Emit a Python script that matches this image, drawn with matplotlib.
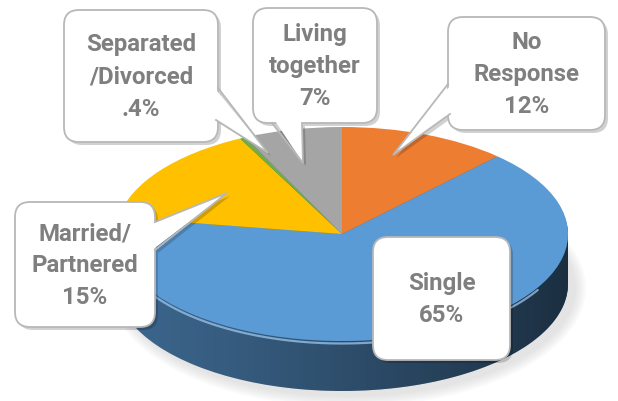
import numpy as np
import matplotlib.pyplot as plt
from matplotlib.patches import FancyBboxPatch, Polygon, Ellipse
from matplotlib.transforms import Affine2D
import matplotlib.colors as mcolors

# data
labels = ['No\nResponse', 'Single', 'Married/\nPartnered', 'Separated\n/Divorced', 'Living\ntogether']
shares = [12, 65, 15, 0.4, 7]
pct_labels = ['12%', '65%', '15%', '.4%', '7%']
colors = ['#ED7D31', '#5B9BD5', '#FFC000', '#70AD47', '#A5A5A5']

W, H = 618, 401
cx, cy = 342, 234      # pie centre, pixels from top-left
a, b = 226, 107        # top ellipse semi axes
depth = 50

fig = plt.figure(figsize=(W / 100, H / 100), dpi=100)
ax = fig.add_axes([0, 0, 1, 1])
ax.axis('off')


def Y(py):
    return H - py


def squash(dy=0):
    return (Affine2D().translate(-cx, -Y(cy)).scale(1, b / a)
            .translate(cx, Y(cy) - dy) + ax.transData)


# soft shadow under the pie
for k in range(6):
    ax.add_patch(Ellipse((cx + 6, Y(cy) - depth - 4), 2 * a + 4 + 4 * k, 2 * b + 4 + 4 * k,
                         facecolor='#808080', edgecolor='none', alpha=0.035, zorder=0))

# side walls: stacked copies of the pie in darker colours
side_colors = [np.array(mcolors.to_rgb(c)) * 0.66 for c in colors]
n_layers = 50
for i in range(n_layers, 0, -1):
    d = depth * i / n_layers
    wedges, _ = ax.pie(shares, colors=side_colors, startangle=90, counterclock=False,
                       radius=a, center=(cx, Y(cy)), wedgeprops=dict(linewidth=0))
    for w in wedges:
        w.set_transform(squash(d))
        w.set_zorder(1)

# horizontal shading on the side
th = np.linspace(np.pi, 2 * np.pi, 300)
top_x, top_y = cx + a * np.cos(th), Y(cy) + b * np.sin(th)
side_pts = np.vstack([np.column_stack([top_x, top_y]),
                      np.column_stack([top_x[::-1], top_y[::-1] - depth])])
side_clip = Polygon(side_pts, closed=True, transform=ax.transData)
grad = np.zeros((2, 256, 4))
grad[..., 3] = np.linspace(0.0, 0.6, 256) ** 1.2
im = ax.imshow(grad, extent=[cx - a, cx + a, Y(cy) - b - depth - 2, Y(cy)],
               aspect='auto', zorder=2)
im.set_clip_path(side_clip)

# top face
wedges, _ = ax.pie(shares, colors=colors, startangle=90, counterclock=False,
                   radius=a, center=(cx, Y(cy)), wedgeprops=dict(linewidth=0))
for w in wedges:
    w.set_transform(squash(0))
    w.set_zorder(3)

# bevel highlight along the front edge
hl = np.linspace(np.radians(190), np.radians(330), 200)
ax.plot(cx + a * np.cos(hl), Y(cy) + b * np.sin(hl) - 2.5, color='#9cc6ef',
        lw=1.6, alpha=0.75, zorder=3.5, solid_capstyle='round')

# callouts: box (x0, y0, x1, y1) and pointer (base1, base2, tip), pixels from top
callouts = {
    0: ((448, 17, 605, 130), ((448, 84), (450, 114), (393, 155))),
    1: ((373, 237, 510, 360), None),
    2: ((15, 202, 155, 327), ((155, 222), (155, 250), (227, 193))),
    3: ((64, 10, 218, 142), ((218, 88), (216, 120), (268, 153))),
    4: ((253, 8, 377, 123), ((272, 123), (302, 123), (303, 163))),
}

edge_c = '#b8b8b8'
for i, ((x0, y0, x1, y1), ptr) in callouts.items():
    bw, bh = x1 - x0, y1 - y0
    # shadow
    ax.add_patch(FancyBboxPatch((x0 + 3, Y(y1) - 3), bw, bh,
                                boxstyle='round,pad=0,rounding_size=15',
                                facecolor='#000000', edgecolor='none', alpha=0.18, zorder=5))
    if ptr is not None:
        b1, b2, t = ptr
        ax.add_patch(Polygon([(b1[0] + 3, Y(b1[1]) - 3), (t[0] + 3, Y(t[1]) - 3),
                              (b2[0] + 3, Y(b2[1]) - 3)],
                             facecolor='#000000', edgecolor='none', alpha=0.18, zorder=5))
    ax.add_patch(FancyBboxPatch((x0, Y(y1)), bw, bh,
                                boxstyle='round,pad=0,rounding_size=15',
                                facecolor='white', edgecolor=edge_c, lw=1.3, zorder=6))
    if ptr is not None:
        b1, b2, t = ptr
        bx, by = (x0 + x1) / 2, (y0 + y1) / 2
        inner = []
        for p in (b1, b2):
            vx, vy = bx - p[0], by - p[1]
            n = np.hypot(vx, vy)
            inner.append((p[0] + 4 * vx / n, Y(p[1] + 4 * vy / n)))
        ax.add_patch(Polygon([inner[0], (t[0], Y(t[1])), inner[1]],
                             facecolor='white', edgecolor='none', zorder=7))
        ax.plot([b1[0], t[0], b2[0]], [Y(b1[1]), Y(t[1]), Y(b2[1])],
                color=edge_c, lw=1.3, zorder=8, solid_joinstyle='miter')
    ax.text((x0 + x1) / 2, Y((y0 + y1) / 2 + 1), f'{labels[i]}\n{pct_labels[i]}',
            ha='center', va='center', fontsize=17.3, fontweight='bold',
            color='#7f7f7f', family='Roboto', linespacing=1.5, zorder=9)

ax.set_xlim(0, W)
ax.set_ylim(0, H)
ax.set_aspect('auto')
fig.savefig('out.png', dpi=100, facecolor='white')
